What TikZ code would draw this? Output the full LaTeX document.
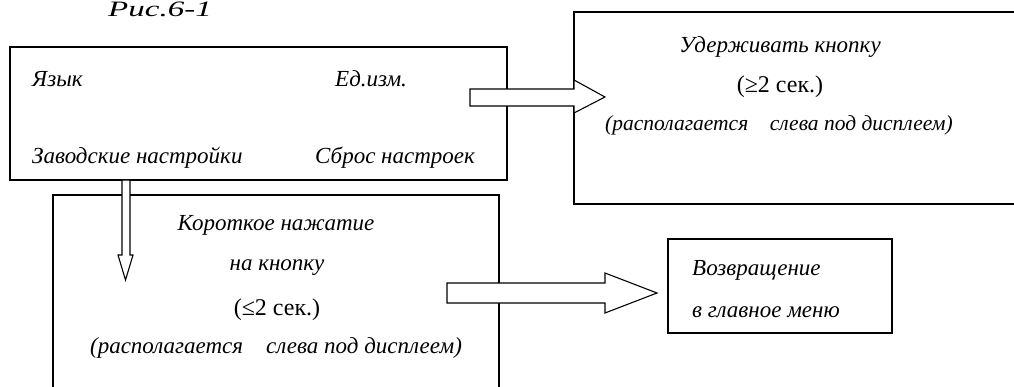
\documentclass[tikz,border=0pt]{standalone}
\usepackage{fontspec}
\setmainfont{Liberation Serif}
\usetikzlibrary{positioning}

\tikzset{
    box/.style={draw, line width=1.2pt},
    hollow/.style={draw, fill=white, line width=1.1pt, line join=miter},
    lbl/.style={font=\itshape\fontsize{23}{27}\selectfont, inner sep=0pt},
    num/.style={font=\fontsize{24}{28}\selectfont, inner sep=0pt},
    title/.style={font=\itshape\fontsize{22}{26}\selectfont\addfontfeature{FakeStretch=1.5}, inner sep=0pt},
}

\begin{document}
\begin{tikzpicture}[x=1pt, y=-1pt]
        \fill [white] (0, 0) rectangle (1014, 387);
        \useasboundingbox (0, 0) rectangle (1014, 387);

        \node [title, anchor=base west] (fig) at (108, 17) {Рис.6-1};

        % boxes
        \draw [box] (10, 47) rectangle (507, 180);
        \draw [box] (574, 12) rectangle (1030, 204);
        \draw [box] (53, 195) rectangle (499, 400);
        \draw [box] (668, 239) rectangle (892, 333);

        % menu box
        \node [lbl, anchor=west] (lang) at (32, 79) {Язык};
        \node [lbl, anchor=west] (unit) at (335, 79) {Ед.изм.};
        \node [lbl, anchor=west] (factory) at (32, 158) {Заводские настройки};
        \node [lbl, anchor=west] (reset) at (315, 158) {Сброс настроек};

        % long press
        \node [lbl] (hold) at (780, 47) {Удерживать кнопку};
        \node [num] (long) at (780, 87) {(≥2 сек.)};
        \node [lbl, font=\itshape\fontsize{21.5}{25}\selectfont] (where1) at (779, 125) {(располагается\quad слева под дисплеем)};

        % short press
        \node [lbl] (short) at (276, 225) {Короткое нажатие};
        \node [lbl] (onbtn) at (277, 268) {на кнопку};
        \node [num] (brief) at (277, 310) {(≤2 сек.)};
        \node [lbl] (where2) at (276, 348) {(располагается\quad слева под дисплеем)};

        % return
        \node [lbl, anchor=west] (back) at (692, 270) {Возвращение};
        \node [lbl, anchor=west] (mainmenu) at (692, 312) {в главное меню};

        % arrows
        \draw [hollow] (470, 89) -- (574, 89) -- (574, 80) -- (605, 97) -- (574, 113) -- (574, 106) -- (470, 106) -- cycle;
        \draw [hollow] (122, 180) -- (122, 255) -- (118, 255) -- (125.5, 280) -- (133, 255) -- (130, 255) -- (130, 180) -- cycle;
        \draw [hollow] (447, 283) -- (605, 283) -- (605, 273) -- (657, 293) -- (605, 313) -- (605, 303) -- (447, 303) -- cycle;
\end{tikzpicture}
\end{document}
